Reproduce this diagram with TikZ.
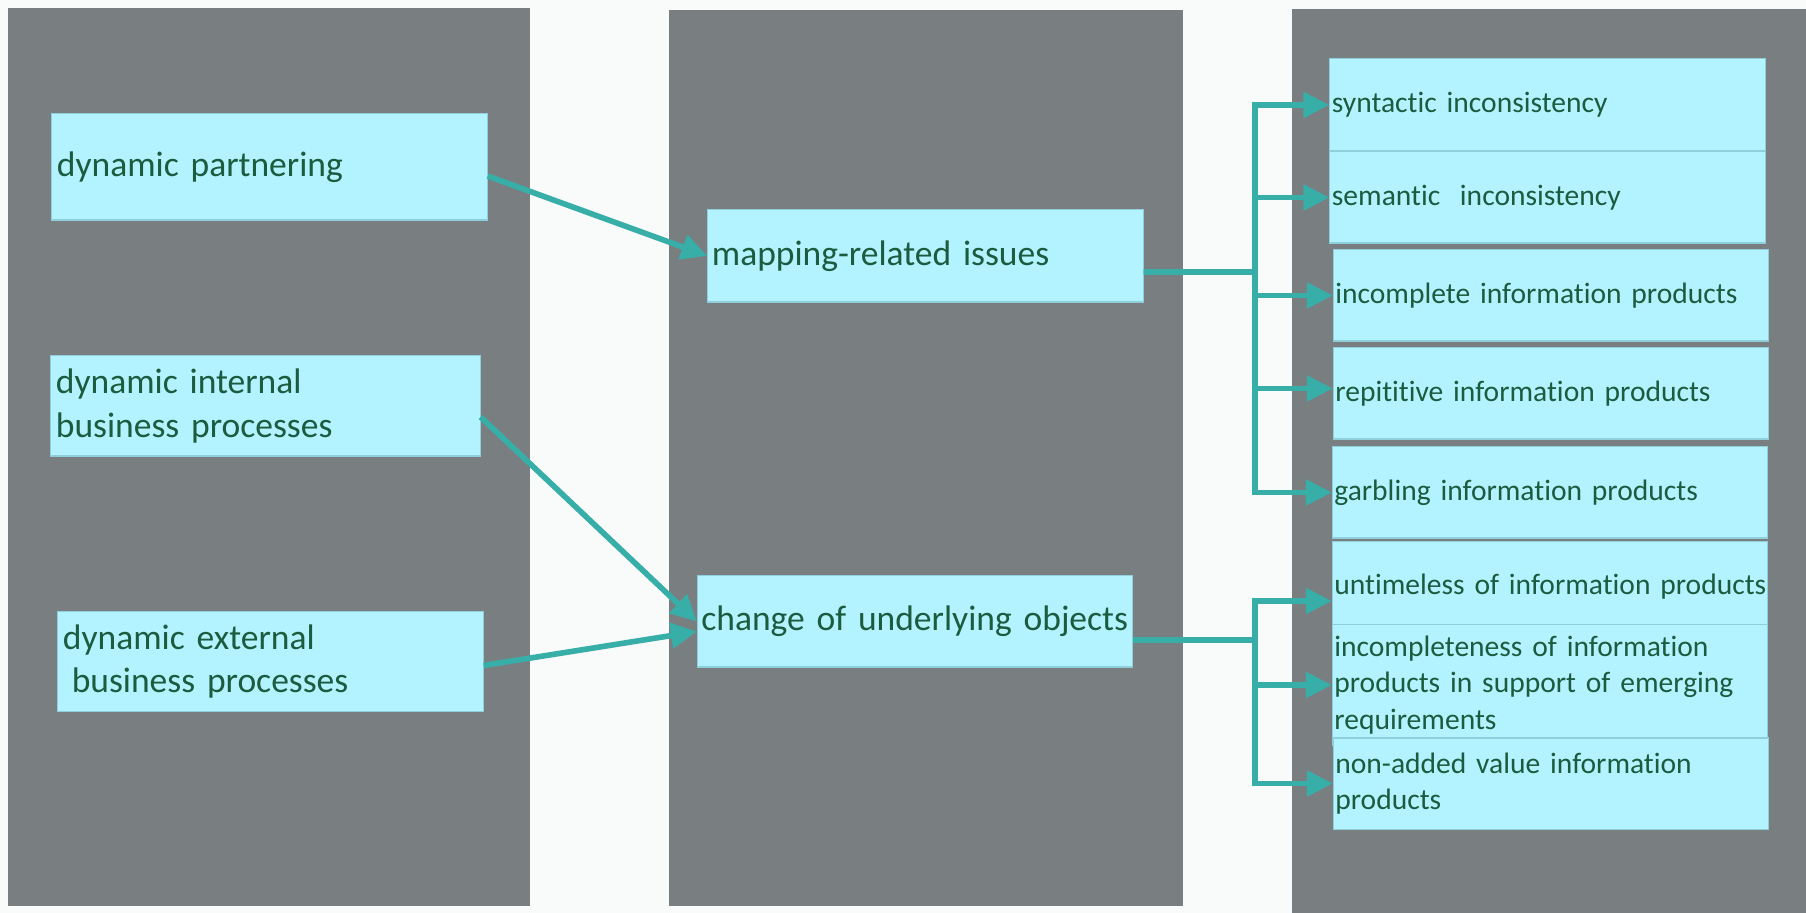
\documentclass[tikz,border=0pt]{standalone}
\usepackage{fontspec}
\setmainfont[WordSpace=0.8, Ligatures=NoCommon]{Carlito}
\usepackage{xcolor}
\usetikzlibrary{positioning,arrows.meta,calc}
\definecolor{panelgray}{HTML}{797E81}
\definecolor{boxcyan}{HTML}{B3F2FF}
\definecolor{boxedge}{HTML}{8FCFDC}
\definecolor{textgreen}{HTML}{1B5B3E}
\definecolor{arrowteal}{HTML}{38AEA9}
\definecolor{pagewhite}{HTML}{F9FAFA}

\begin{document}
\begin{tikzpicture}[
  x=0.01cm, y=-0.01cm,
  causebox/.style={fill=boxcyan, draw=boxedge, line width=0.3pt,
    minimum width=#1, minimum height=1.0cm, inner xsep=0.05cm,
    text width=#1-0.1cm, align=left, text=textgreen,
    font=\fontsize{10.1}{12.3}\selectfont},
  issuebox/.style={fill=boxcyan, draw=boxedge, line width=0.3pt,
    minimum width=4.35cm, minimum height=0.91cm, inner xsep=0.04cm,
    text width=4.27cm, align=left, text=textgreen,
    font=\fontsize{10.1}{12.3}\selectfont},
  effectbox/.style={fill=boxcyan, draw=boxedge, line width=0.3pt,
    minimum width=4.35cm, minimum height=0.91cm, inner xsep=0.02cm,
    text width=4.31cm, align=left, text=textgreen,
    font=\fontsize{8.4}{10.3}\selectfont},
  arr/.style={-{Triangle[length=0.26cm, width=0.25cm]}, line width=1.6pt,
    arrowteal},
  bus/.style={line width=1.6pt, arrowteal}
]
  % page and the three gray columns
  \fill[pagewhite] (0,0) rectangle (1806,913);
  \useasboundingbox (0,0) rectangle (1806,913);
  \fill[panelgray] (8,8) rectangle (530,906);
  \fill[panelgray] (669,10) rectangle (1183,906);
  \fill[panelgray] (1292,9) rectangle (1806,913);

  % causes
  \node[causebox=4.35cm, minimum height=1.06cm] (dp) at (269.5,167)
    {dynamic partnering};
  \node[causebox=4.29cm] (di) at (265.5,406)
    {dynamic internal\\business processes};
  \node[causebox=4.25cm, minimum height=0.99cm] (de) at (270.5,661.5)
    {dynamic external\\\hspace{0.25em}business processes};

  % issues
  \node[issuebox, minimum height=0.92cm] (mr) at (925.5,256)
    {mapping-related issues};
  \node[issuebox, minimum width=4.34cm] (cu) at (915,621.5)
    {\mbox{change of underlying objects}};

  % effects
  \node[effectbox, minimum height=0.92cm] (e1) at (1547.5,105)
    {syntactic inconsistency};
  \node[effectbox] (e2) at (1547.5,197.5) {semantic\ \ inconsistency};
  \node[effectbox] (e3) at (1551,295.5) {incomplete information products};
  \node[effectbox] (e4) at (1551,393.5) {repititive information products};
  \node[effectbox] (e5) at (1550,492.5) {garbling information products};
  \node[effectbox] (e6) at (1550,587)
    {\mbox{untimeless of information products}};
  \node[effectbox, minimum height=0.92cm] (e7) at (1550,685)
    {incompleteness of information\\products in support of emerging\\requirements};
  \node[effectbox] (e8) at (1551,783.5)
    {non-added value information\\products};

  % causes -> issues
  \draw[arr] ([yshift=-0.09cm]dp.east) -- (mr.west);
  \draw[arr] ([yshift=-0.11cm]di.east) -- (cu.west);
  \draw[arr] ([yshift=-0.04cm]de.east) -- ([yshift=-0.1cm]cu.west);

  % issues -> effects
  \coordinate (mbus) at (1255,272);
  \coordinate (cbus) at (1255,640);
  \draw[bus] ([yshift=-0.16cm]mr.east) -- (mbus);
  \draw[bus] ([yshift=-0.185cm]cu.east) -- (cbus);
  \draw[arr] (mbus) |- (e1.west);
  \draw[arr] (mbus) |- (e2.west);
  \draw[arr] (mbus) |- (e3.west);
  \draw[arr] (mbus) |- ([yshift=0.05cm]e4.west);
  \draw[arr] (mbus) |- (e5.west);
  \draw[arr] (cbus) |- ([yshift=-0.14cm]e6.west);
  \draw[arr] (cbus) |- (e7.west);
  \draw[arr] (cbus) |- (e8.west);
\end{tikzpicture}
\end{document}
